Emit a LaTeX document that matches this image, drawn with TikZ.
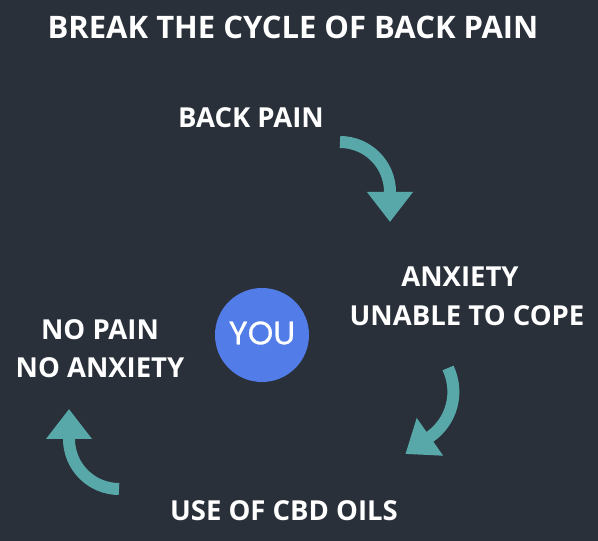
\documentclass[tikz,border=0pt]{standalone}
\usepackage{fontspec}
\setmainfont{Open Sans}
\newfontfamily\youfont[FakeBold=0.6]{Poppins}
\usetikzlibrary{arrows.meta}
\definecolor{bgslate}{RGB}{41,48,58}
\definecolor{cycteal}{RGB}{88,168,170}
\definecolor{youblue}{RGB}{82,124,232}
\begin{document}
\begin{tikzpicture}[x=1pt,y=1pt,
  lbl/.style={text=white,font=\bfseries\fontsize{27.5}{32}\selectfont,inner sep=0pt},
  cyc/.style={draw=cycteal,line width=12pt,-{Triangle[length=30pt,width=44pt]}}]
  \fill[bgslate] (0,0) rectangle (598,541);
  \useasboundingbox (0,0) rectangle (598,541);
  % title
  \node[lbl,font=\bfseries\fontsize{31}{36}\selectfont] (title) at (293,514) {BREAK THE CYCLE OF BACK PAIN};
  % the cycle
  \node[lbl] (pain) at (251,423) {BACK PAIN};
  \node[lbl] (anx) at (460,264) {ANXIETY};
  \node[lbl] (cope) at (467,225) {UNABLE TO COPE};
  \node[lbl] (cbd) at (284,30) {USE OF CBD OILS};
  \node[lbl] (nopain) at (100,211) {NO PAIN};
  \node[lbl] (noanx) at (100,173) {NO ANXIETY};
  % centre
  \node[circle,fill=youblue,minimum size=94pt,inner sep=0pt] (you) at (262,206) {};
  \node[text=white,font=\youfont\fontsize{32.5}{36}\selectfont,inner sep=0pt] (youtxt) at (262,208) {YOU};
  % arrows
  \coordinate (a1) at (340,399);
  \coordinate (a2) at (448,173);
  \coordinate (a3) at (119,52);
  \draw[cyc] (a1) arc[start angle=90,end angle=0,radius=50] -- ++(0,-30);
  \draw[cyc] (a2) arc[start angle=25.6,end angle=-55,radius=55] -- ++(-24.6,-17.2);
  \draw[cyc] (a3) arc[start angle=270,end angle=180,radius=50] -- ++(0,30);
\end{tikzpicture}
\end{document}
